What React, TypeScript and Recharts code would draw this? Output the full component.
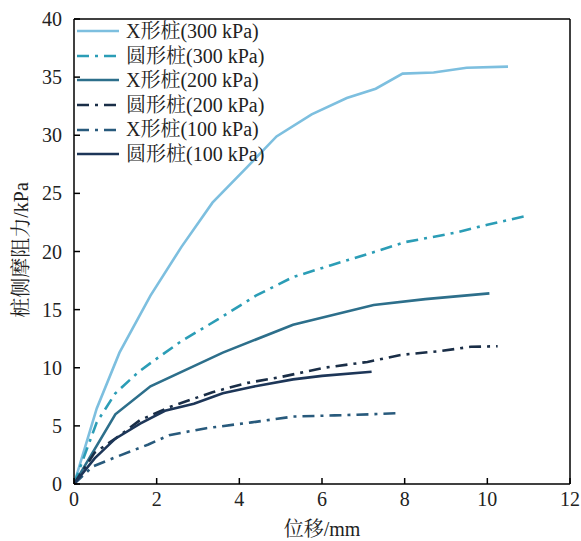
import React from 'react';
import { LineChart, Line, XAxis, YAxis, ReferenceLine, Label } from 'recharts';

const xTicks = [0, 2, 4, 6, 8, 10, 12];
const yTicks = [0, 5, 10, 15, 20, 25, 30, 35, 40];

const xX300 = [0, 0.55, 1.1, 1.85, 2.6, 3.35, 4.2, 4.9, 5.75, 6.6, 7.3, 7.95, 8.7, 9.5, 10.5];
const yX300 = [0, 6.5, 11.3, 16.2, 20.4, 24.2, 27.3, 29.9, 31.8, 33.2, 34.0, 35.3, 35.4, 35.8, 35.9];

const xC300 = [0, 0.55, 1.0, 1.55, 1.85, 2.6, 3.5, 4.4, 5.3, 6.2, 7.3, 8.0, 9.2, 10.0, 11.0];
const yC300 = [0, 5.3, 7.8, 9.6, 10.4, 12.3, 14.2, 16.2, 17.8, 18.8, 20.0, 20.8, 21.6, 22.3, 23.1];

const xX200 = [0, 1.0, 1.85, 3.6, 5.3, 7.25, 8.5, 10.05];
const yX200 = [0, 6.0, 8.4, 11.3, 13.7, 15.4, 15.9, 16.4];

const xC200 = [0, 0.5, 1.0, 1.6, 2.3, 3.35, 4.2, 5.0, 6.05, 7.1, 7.9, 8.9, 9.6, 10.25];
const yC200 = [0, 2.7, 3.9, 5.5, 6.6, 7.9, 8.7, 9.2, 10.0, 10.5, 11.1, 11.45, 11.8, 11.85];

const xX100 = [0, 0.45, 1.0, 1.8, 2.3, 3.2, 4.3, 5.3, 6.3, 7.2, 7.9];
const yX100 = [0, 1.5, 2.3, 3.4, 4.2, 4.8, 5.3, 5.8, 5.9, 6.0, 6.1];

const xC100 = [0, 0.5, 1.0, 1.6, 2.2, 2.9, 3.6, 4.3, 5.3, 6.0, 7.2];
const yC100 = [0, 2.2, 3.9, 5.2, 6.3, 6.9, 7.8, 8.35, 9.0, 9.3, 9.65];

const names = ['X形桩(300 kPa)', '圆形桩(300 kPa)', 'X形桩(200 kPa)', '圆形桩(200 kPa)', 'X形桩(100 kPa)', '圆形桩(100 kPa)'];
const colors = ['#7dbfdf', '#2b9db6', '#2d6f8b', '#1a2e47', '#285a7c', '#1d3658'];
const dashes = [undefined, '12 6 3 6', undefined, '12 6 3 6', '12 6 3 6', undefined];

const build = (xs: number[], ys: number[]) => xs.map((x, i) => ({ x, y: ys[i] }));
const seriesData = [
  build(xX300, yX300),
  build(xC300, yC300),
  build(xX200, yX200),
  build(xC200, yC200),
  build(xX100, yX100),
  build(xC100, yC100),
];

const FONT = 'Liberation Serif, Times New Roman, Tinos, DejaVu Serif, Noto Serif CJK SC, Noto Sans CJK SC, serif';

export default function App() {
  return (
    <div style={{ position: 'absolute', left: 0, top: 0, width: 581, height: 541, background: '#fff' }}>
      <LineChart width={581} height={541} margin={{ top: 19, right: 11, bottom: 0, left: 0 }}>
        <XAxis
          type="number"
          dataKey="x"
          domain={[0, 12]}
          ticks={xTicks}
          height={57}
          allowDataOverflow
          stroke="#000"
          strokeWidth={1.5}
          tickSize={-6}
          tickMargin={14}
          tick={{ fill: '#222', fontSize: 20, fontFamily: FONT }}
        >
          <Label
            content={() => (
              <text x={322} y={529} textAnchor="middle" dominantBaseline="central" fontSize={20} fontFamily={FONT} fill="#222">
                位移/mm
              </text>
            )}
          />
        </XAxis>
        <YAxis
          type="number"
          dataKey="y"
          domain={[0, 40]}
          ticks={yTicks}
          width={74}
          allowDataOverflow
          stroke="#000"
          strokeWidth={1.5}
          tickSize={-6}
          tickMargin={18}
          tick={{ fill: '#222', fontSize: 20, fontFamily: FONT }}
        >
          <Label
            content={() => (
              <text x={21} y={250} transform="rotate(-90 21 250)" textAnchor="middle" dominantBaseline="central" fontSize={20} fontFamily={FONT} fill="#222">
                桩侧摩阻力/kPa
              </text>
            )}
          />
        </YAxis>
        <ReferenceLine y={40} stroke="#000" strokeWidth={1.5} />
        <ReferenceLine x={12} stroke="#000" strokeWidth={1.5} />
        {seriesData.map((d, i) => (
          <Line
            key={names[i]}
            data={d}
            dataKey="y"
            name={names[i]}
            type="linear"
            stroke={colors[i]}
            strokeWidth={2.6}
            strokeDasharray={dashes[i]}
            dot={false}
            activeDot={false}
            isAnimationActive={false}
          />
        ))}
      </LineChart>
      <div style={{ position: 'absolute', left: 77, top: 19, fontFamily: FONT, fontSize: 20, color: '#222' }}>
        {names.map((n, i) => (
          <div key={n} style={{ display: 'flex', alignItems: 'center', height: 24.6 }}>
            <svg width={42} height={10} style={{ marginRight: 7 }}>
              <line x1={0} y1={5} x2={42} y2={5} stroke={colors[i]} strokeWidth={2.6} strokeDasharray={dashes[i]} />
            </svg>
            <span style={{ whiteSpace: 'nowrap', lineHeight: '24.6px' }}>{n}</span>
          </div>
        ))}
      </div>
    </div>
  );
}
